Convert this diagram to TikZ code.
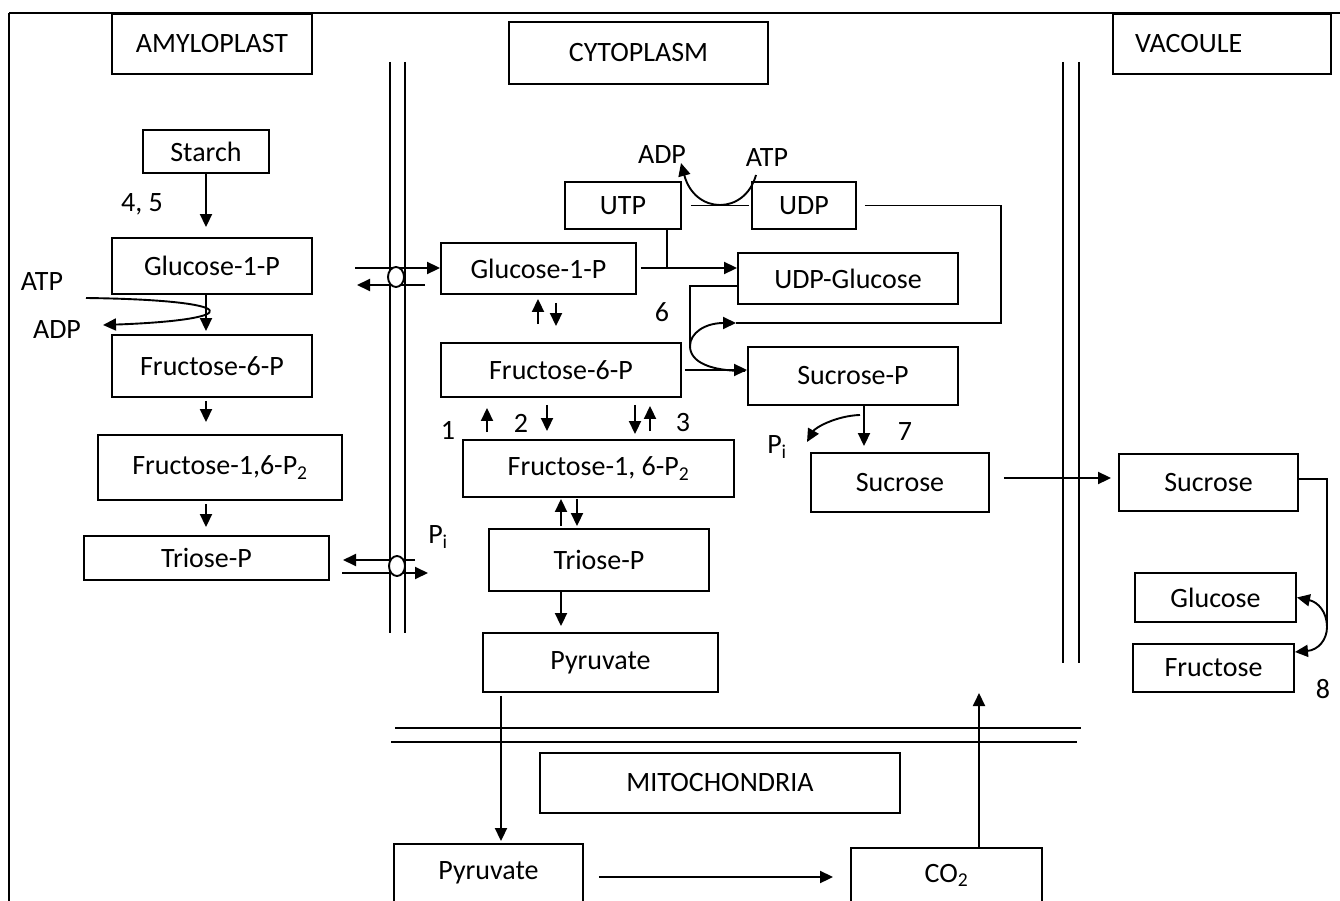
\documentclass[tikz,border=0pt]{standalone}
\usepackage{fontspec}
\setmainfont{Carlito}
\usetikzlibrary{arrows.meta,calc,shapes.geometric}

\begin{document}
\begin{tikzpicture}[x=1pt, y=-1pt, line width=1.9pt,
	font=\fontsize{28}{34}\selectfont,
	box/.style={draw, rectangle, inner sep=0pt},
	lbl/.style={inner sep=1pt},
	gate/.style={draw, ellipse, fill=white, minimum width=16pt, minimum height=20pt, inner sep=0pt},
	arr/.style={-{Triangle[length=13pt,width=12pt]}},
	twoarr/.style={{Triangle[length=13pt,width=12pt]}-{Triangle[length=13pt,width=12pt]}}]

	\useasboundingbox (0,0) rectangle (1340,901);
	\clip (0,0) rectangle (1340,901);

	% frame and membranes
	\draw (9,13) -- (1345,13);
	\draw (9,13) -- (9,905);
	\draw (390,62) -- (390,633) (405,62) -- (405,633);
	\draw (1063,62) -- (1063,663) (1079,62) -- (1079,663);
	\draw (395,728) -- (1081,728) (391,742) -- (1077,742);

	\node[box, minimum width=200, minimum height=60] (amyl) at (212,44) {AMYLOPLAST};
	\node[box, minimum width=259, minimum height=62] (cyto) at (638.5,53) {CYTOPLASM};
	\node[box, minimum height=60, inner xsep=22pt, text width=174pt, align=left] (vac) at (1222,44) {VACOULE};
	\node[box, minimum width=360, minimum height=60] (mito) at (720,783) {MITOCHONDRIA};

	% amyloplast
	\node[box, minimum width=126, minimum height=43, text depth=0pt] (starch) at (206,151.5) {Starch};
	\node[box, minimum width=200, minimum height=56] (lg1p) at (212,266) {Glucose-1-P};
	\node[box, minimum width=200, minimum height=62] (lf6p) at (212,366) {Fructose-6-P};
	\node[box, minimum width=244, minimum height=65] (lfbp) at (220,467.5) {Fructose-1,6-P\textsubscript{2}};
	\node[box, minimum width=245, minimum height=44] (ltri) at (206.5,558) {Triose-P};

	% cytoplasm
	\node[box, minimum width=195, minimum height=51] (cg1p) at (538.5,268.5) {Glucose-1-P};
	\node[box, minimum width=116, minimum height=47] (utp) at (623,205.5) {UTP};
	\node[box, minimum width=104, minimum height=47] (udp) at (804,205.5) {UDP};
	\node[box, minimum width=220, minimum height=51] (udpg) at (848,278.5) {UDP-Glucose};
	\node[box, minimum width=240, minimum height=54] (cf6p) at (561,370) {Fructose-6-P};
	\node[box, minimum width=210, minimum height=58] (sucp) at (853,376) {Sucrose-P};
	\node[box, minimum width=271, minimum height=57] (cfbp) at (598.5,468.5) {Fructose-1, 6-P\textsubscript{2}};
	\node[box, minimum width=220, minimum height=62] (ctri) at (599,560) {Triose-P};
	\node[box, minimum width=235, minimum height=59] (cpyr) at (600.5,662.5) {Pyruvate};
	\node[box, minimum width=178, minimum height=59] (csuc) at (900,482.5) {Sucrose};

	% vacoule
	\node[box, minimum width=179, minimum height=57] (vsuc) at (1208.5,482.5) {Sucrose};
	\node[box, minimum width=161, minimum height=49] (glc) at (1215.5,597.5) {Glucose};
	\node[box, minimum width=161, minimum height=48] (fru) at (1213.5,668) {Fructose};

	% mitochondria
	\node[box, minimum width=189, minimum height=58] (mpyr) at (488.5,873) {Pyruvate};
	\node[box, minimum width=191, minimum height=54] (co2) at (946.5,875) {CO\textsubscript{2}};

	\node[lbl] (n45) at (142,204) {4, 5};
	\node[lbl] (atpa) at (42,282) {ATP};
	\node[lbl] (adpa) at (57,330) {ADP};
	\node[lbl] (adpb) at (662,155) {ADP};
	\node[lbl] (atpb) at (767,158) {ATP};
	\node[lbl] (n6) at (662,312) {6};
	\node[lbl] (n1) at (448,430) {1};
	\node[lbl] (n2) at (521,423) {2};
	\node[lbl] (n3) at (683,423) {3};
	\node[lbl] (pia) at (438,537) {P\textsubscript{i}};
	\node[lbl] (pib) at (777,447) {P\textsubscript{i}};
	\node[lbl] (n7) at (905,432) {7};
	\node[lbl] (n8) at (1323,689) {8};

	\coordinate (lx) at (206,0);
	\draw[arr, shorten >=10pt] (starch) -- (starch |- lg1p.north);
	\draw[arr, shorten >=3pt] (lg1p.south -| lx) -- (lf6p.north -| lx);
	\draw[arr, shorten <=3pt, shorten >=12pt] (lf6p.south -| lx) -- (lfbp.north -| lx);
	\draw[arr, shorten <=3pt, shorten >=8pt] (lfbp.south -| lx) -- (ltri.north -| lx);

	\coordinate (atpin) at (86,298);
	\coordinate (adpout) at (103,325);
	\draw[arr] (atpin) .. controls (246,300) and (246,320) .. (adpout);

	% transporters
	\draw[arr] (355,268) -- (cg1p.west |- 0,268);
	\draw[arr] (425,285) -- (357,285);
	\draw[arr] (415,560) -- (343,560);
	\draw[arr] (342,573) -- (428,573);
	\node[gate] (tg1) at (396,277) {};
	\node[gate] (tg2) at (397,566) {};

	\draw[shorten <=9pt, shorten >=2pt] (utp.east) -- (udp.west);
	\draw[arr] ($(atpb)+(-11,17)$) .. controls (745,215) and (695,215) .. ($(adpb)+(19,8)$);
	\coordinate (jn) at (667,268);
	\draw (utp.south -| jn) -- (jn);
	\draw[arr, shorten <=4pt] (cg1p.east |- jn) -- (udpg.west |- jn);
	\coordinate (bw) at (690,346);
	\coordinate (bt) at (736,323);
	\draw (udpg.west |- 0,286) -| (bw);
	\draw[arr] (bw) .. controls (690,333) and (705,323) .. (bt);
	\draw (bw) .. controls (690,362) and (710,371) .. (745,371);
	\draw[shorten <=8pt] (udp.east) -| (1001,323) -- (bt);
	\draw[arr, shorten <=3pt] (cf6p.east) -- (sucp.west |- cf6p.east);

	\draw[arr, shorten <=18pt, shorten >=4pt] (cf6p.north -| 538,0) -- (cg1p.south -| 538,0);
	\draw[arr, shorten <=8pt, shorten >=16pt] (cg1p.south -| 556,0) -- (cf6p.north -| 556,0);
	\draw[arr, shorten <=7pt, shorten >=10pt] (cfbp.north -| 487,0) -- (cf6p.south -| 487,0);
	\draw[arr, shorten <=7pt, shorten >=8pt] (cf6p.south -| 547,0) -- (cfbp.north -| 547,0);
	\draw[arr, shorten <=7pt, shorten >=5pt] (cf6p.south -| 635,0) -- (cfbp.north -| 635,0);
	\draw[arr, shorten <=8pt, shorten >=8pt] (cfbp.north -| 650,0) -- (cf6p.south -| 650,0);
	\draw[arr, shorten <=2pt, shorten >=1pt] (ctri.north -| 561,0) -- (cfbp.south -| 561,0);
	\draw[arr, shorten <=1pt, shorten >=2pt] (cfbp.south -| 577,0) -- (ctri.north -| 577,0);
	\draw[arr, shorten >=6pt] (ctri.south -| 561,0) -- (cpyr.north -| 561,0);

	\draw[arr, shorten <=3pt, shorten >=2pt] (cpyr.south -| 501,0) -- (mpyr.north -| 501,0);
	\draw[arr, shorten <=15pt, shorten >=17pt] (mpyr.east |- 0,877) -- (co2.west |- 0,877);
	\coordinate (co2out) at (979,693);
	\draw[arr] (co2.north -| co2out) -- (co2out);

	\draw[arr, shorten >=6pt] (sucp.south -| 864,0) -- (csuc.north -| 864,0);
	\draw[arr] ($(sucp.south)+(7,9)$) .. controls (835,416) and (815,428) .. ($(pib)+(30,-5)$);
	\draw[arr, shorten <=14pt, shorten >=7pt] (csuc.east |- 0,478) -- (vsuc.west |- 0,478);
	\draw (vsuc.east |- 0,479) -| (1327,627);
	\draw[twoarr] (glc.east) .. controls (1318,602) and (1327,612) .. (1327,627)
		.. controls (1327,640) and (1318,650) .. (fru.east |- 0,652);
\end{tikzpicture}
\end{document}
